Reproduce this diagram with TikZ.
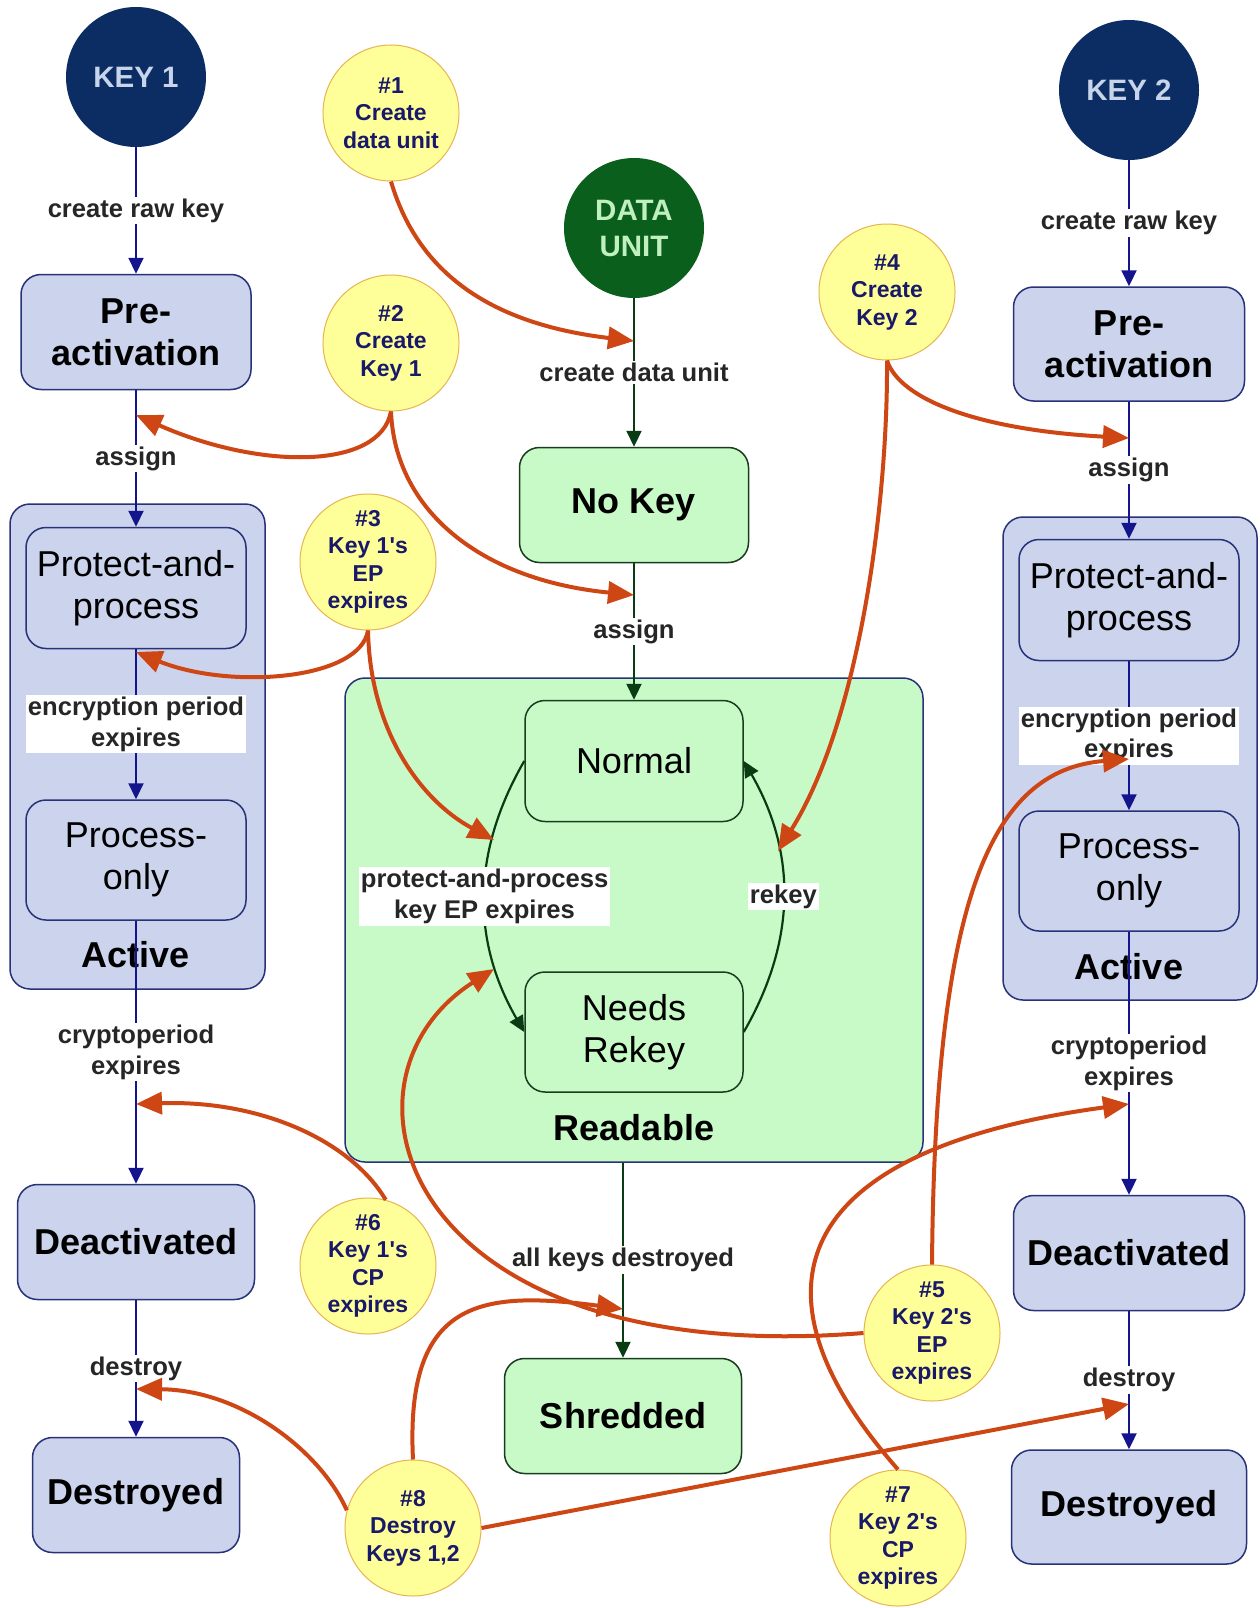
\documentclass[tikz,border=0pt]{standalone}
\usepackage{fontspec}
\setmainfont{Liberation Sans}[Ligatures=TeXOff]
\usepackage{tikz}
\usetikzlibrary{arrows.meta}

\definecolor{keynavy}{RGB}{12,45,99}
\definecolor{keytext}{RGB}{200,212,234}
\definecolor{datagreen}{RGB}{10,95,28}
\definecolor{datatext}{RGB}{192,240,192}
\definecolor{statefill}{RGB}{203,212,236}
\definecolor{stateedge}{RGB}{40,50,120}
\definecolor{keyline}{RGB}{20,20,140}
\definecolor{greenfill}{RGB}{200,250,200}
\definecolor{greenedge}{RGB}{25,60,30}
\definecolor{dataline}{RGB}{10,60,20}
\definecolor{eventfill}{RGB}{255,255,153}
\definecolor{eventedge}{RGB}{230,180,80}
\definecolor{eventtext}{RGB}{25,25,105}
\definecolor{eventred}{RGB}{205,70,20}

\tikzset{
  keycircle/.style={circle, fill=keynavy, text=keytext, minimum size=140pt, inner sep=0pt,
    align=center, font=\fontsize{29.5}{36}\selectfont\bfseries},
  datacircle/.style={keycircle, fill=datagreen, text=datatext},
  keystate/.style={rectangle, rounded corners=20pt, draw=stateedge, line width=1.5pt,
    fill=statefill, align=center, font=\fontsize{36}{42}\selectfont\bfseries},
  keysub/.style={keystate, font=\fontsize{36}{42}\selectfont},
  datastate/.style={keystate, draw=greenedge, fill=greenfill},
  datasub/.style={datastate, font=\fontsize{36}{42}\selectfont},
  group/.style={rectangle, rounded corners=20pt, draw=stateedge, line width=1.5pt},
  grouplbl/.style={font=\fontsize{36}{42}\selectfont\bfseries},
  event/.style={circle, draw=eventedge, line width=1pt, fill=eventfill, text=eventtext,
    minimum size=136pt, inner sep=0pt, align=center, font=\fontsize{23}{27.5}\selectfont\bfseries},
  lbl/.style={fill=white, inner sep=2pt, align=center, text=black!85,
    font=\fontsize{25.6}{30.5}\selectfont\bfseries},
  keyflow/.style={draw=keyline, line width=2.2pt, -{Triangle[length=16pt,width=15pt]}},
  dataflow/.style={keyflow, draw=dataline},
  trigger/.style={draw=eventred, line width=4pt, -{Triangle[length=26pt,width=22pt]}}
}

\begin{document}
\begin{tikzpicture}[x=1pt,y=1pt]
  \path[use as bounding box, fill=white] (0,0) rectangle (1259,-1608);

  % groups
  \node[group, fill=statefill, minimum width=255pt, minimum height=485pt] (actA) at (137.5,-746.5) {};
  \node[group, fill=statefill, minimum width=254pt, minimum height=483pt] (actB) at (1130,-758.5) {};
  \node[group, fill=greenfill, minimum width=578pt, minimum height=484pt] (rd) at (634,-920) {};
  \node[grouplbl] (actAlbl) at (136,-955) {Active};
  \node[grouplbl] (actBlbl) at (1129,-967) {Active};
  \node[grouplbl] (rdlbl) at (634,-1128) {Readable};

  % key 1
  \node[keycircle] (keyA) at (136,-77) {KEY 1};
  \node[keystate, minimum width=230pt, minimum height=115pt] (preA) at (136,-332) {Pre-\\activation};
  \node[keysub, minimum width=220pt, minimum height=121pt] (ppA) at (136,-588) {Protect-and-\\process};
  \node[keysub, minimum width=220pt, minimum height=120pt] (poA) at (136,-860) {Process-\\only};
  \node[keystate, minimum width=237pt, minimum height=115pt] (deA) at (136,-1242) {Deactivated};
  \node[keystate, minimum width=207pt, minimum height=115pt] (dsA) at (136,-1495) {Destroyed};

  % key 2
  \node[keycircle] (keyB) at (1129,-90) {KEY 2};
  \node[keystate, minimum width=231pt, minimum height=114pt] (preB) at (1129,-344) {Pre-\\activation};
  \node[keysub, minimum width=220pt, minimum height=121pt] (ppB) at (1129,-600) {Protect-and-\\process};
  \node[keysub, minimum width=220pt, minimum height=120pt] (poB) at (1129,-871) {Process-\\only};
  \node[keystate, minimum width=231pt, minimum height=115pt] (deB) at (1129,-1253) {Deactivated};
  \node[keystate, minimum width=235pt, minimum height=114pt] (dsB) at (1129,-1507) {Destroyed};

  % data unit
  \node[datacircle] (du) at (634,-228) {DATA\\UNIT};
  \node[datastate, minimum width=229pt, minimum height=115pt] (noKey) at (634,-505) {No Key};
  \node[datasub, minimum width=218pt, minimum height=121pt] (normal) at (634,-761) {Normal};
  \node[datasub, minimum width=218pt, minimum height=120pt] (needs) at (634,-1032) {Needs\\Rekey};
  \node[datastate, minimum width=237pt, minimum height=115pt] (shred) at (623,-1416) {Shredded};

  % key transitions
  \draw[keyflow] (keyA) -- node[lbl] {create raw key} (preA);
  \draw[keyflow] (preA) -- node[lbl] {assign} (ppA);
  \draw[keyflow] (ppA) -- node[lbl] {encryption period\\expires} (poA);
  \draw[keyflow] (poA) -- node[lbl] {cryptoperiod\\expires} (deA);
  \draw[keyflow] (deA) -- node[lbl] {destroy} (dsA);
  \draw[keyflow] (keyB) -- node[lbl] {create raw key} (preB);
  \draw[keyflow] (preB) -- node[lbl] {assign} (ppB);
  \draw[keyflow] (ppB) -- node[lbl] {encryption period\\expires} (poB);
  \draw[keyflow] (poB) -- node[lbl] {cryptoperiod\\expires} (deB);
  \draw[keyflow] (deB) -- node[lbl] {destroy} (dsB);

  % data transitions
  \draw[dataflow] (du) -- node[lbl] {create data unit} (noKey);
  \draw[dataflow] (noKey) -- node[lbl] {assign} (normal);
  \draw[dataflow] (normal.west) to[out=240,in=120]
    node[lbl] {protect-and-process\\key EP expires} (needs.west);
  \draw[dataflow] (needs.east) to[out=60,in=-60] node[lbl] {rekey} (normal.east);
  \draw[dataflow] (shred.north |- rd.south) -- node[lbl] {all keys destroyed} (shred);

  % events
  \node[event] (n1) at (391,-113) {\#1\\Create\\data unit};
  \node[event] (n2) at (391,-343) {\#2\\Create\\Key 1};
  \node[event] (n3) at (368,-562) {\#3\\Key 1's\\EP\\expires};
  \node[event] (n4) at (887,-292) {\#4\\Create\\Key 2};
  \node[event] (n5) at (932,-1333) {\#5\\Key 2's\\EP\\expires};
  \node[event] (n6) at (368,-1266) {\#6\\Key 1's\\CP\\expires};
  \node[event] (n7) at (898,-1538) {\#7\\Key 2's\\CP\\expires};
  \node[event] (n8) at (413,-1528) {\#8\\Destroy\\Keys 1,2};

  \coordinate (pinDU) at (634,-341);
  \coordinate (pinAssignA) at (136,-415);
  \coordinate (pinAssignDU) at (634,-595);
  \coordinate (pinEncA) at (136,-652);
  \coordinate (pinEP) at (494,-840);
  \coordinate (pinAssignB) at (1129,-438);
  \coordinate (pinRekey) at (778,-851);
  \coordinate (pinEncB) at (1129,-759);
  \coordinate (pinNeeds) at (494,-969);
  \coordinate (pinCryptoA) at (136,-1104);
  \coordinate (pinCryptoB) at (1129,-1104);
  \coordinate (pinDestroyA) at (136,-1389);
  \coordinate (pinShred) at (623,-1309);
  \coordinate (pinDestroyB) at (1129,-1404);

  \draw[trigger] (n1.south) .. controls (420,-280) and (500,-325) .. (pinDU);
  \draw[trigger] (n2.south) .. controls (380,-470) and (260,-470) .. (pinAssignA);
  \draw[trigger] (n2.south) .. controls (395,-510) and (480,-580) .. (pinAssignDU);
  \draw[trigger] (n3.south) .. controls (360,-680) and (230,-690) .. (pinEncA);
  \draw[trigger] (n3.south) .. controls (370,-730) and (420,-800) .. (pinEP);
  \draw[trigger] (n4.south) .. controls (900,-400) and (980,-430) .. (pinAssignB);
  \draw[trigger] (n4.south) .. controls (888,-500) and (860,-720) .. (pinRekey);
  \draw[trigger] (n5.north) .. controls (935,-900) and (990,-770) .. (pinEncB);
  \draw[trigger] (n5.west) .. controls (400,-1370) and (320,-1080) .. (pinNeeds);
  \draw[trigger] (n6.75) .. controls (350,-1140) and (260,-1100) .. (pinCryptoA);
  \draw[trigger] (n7.north) .. controls (740,-1290) and (790,-1150) .. (pinCryptoB);
  \draw[trigger] (n8.165) .. controls (320,-1450) and (240,-1390) .. (pinDestroyA);
  \draw[trigger] (n8.north) .. controls (405,-1300) and (480,-1290) .. (pinShred);
  \draw[trigger] (n8.east) -- (pinDestroyB);
\end{tikzpicture}
\end{document}
